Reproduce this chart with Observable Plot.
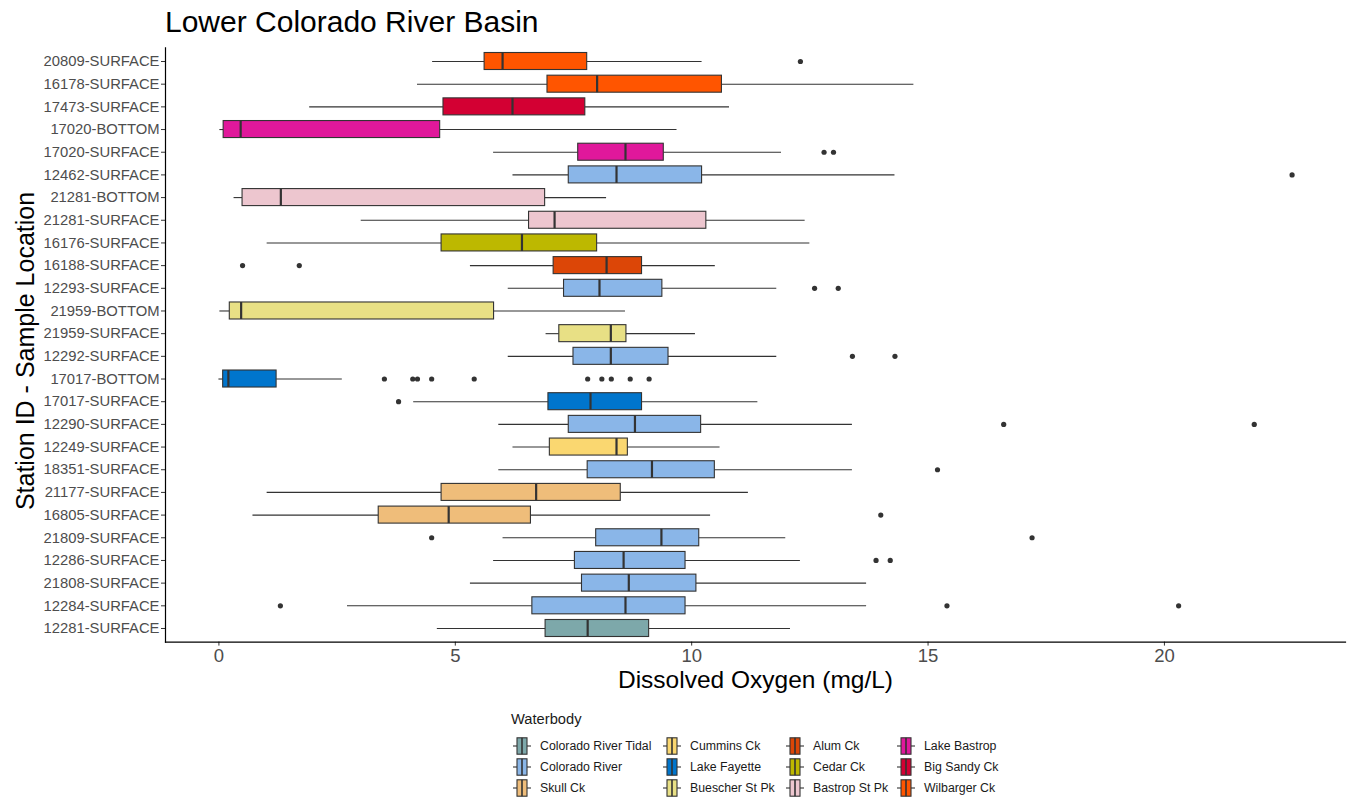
<!DOCTYPE html>
<html><head><meta charset="utf-8">
<script src="https://cdn.jsdelivr.net/npm/d3@7"></script>
<script src="https://cdn.jsdelivr.net/npm/@observablehq/plot@0.6"></script>
<style>
body{margin:0;background:#fff;font-family:"Liberation Sans",Arial,sans-serif;}
#wrap{position:relative;width:1348px;height:797px;overflow:hidden;background:#fff;}
#chart{position:absolute;left:0;top:0;}
#title{position:absolute;left:165px;top:5px;font-size:30px;color:#000;white-space:nowrap;}
.lg-title{position:absolute;font-size:14.7px;color:#1a1a1a;}
.lg-item{position:absolute;height:20px;display:flex;align-items:center;font-size:12.3px;color:#1a1a1a;white-space:nowrap;}
.lg-item svg{margin-right:9px;}
</style></head>
<body>
<div id="wrap">
  <div id="chart"></div>
  <div id="title">Lower Colorado River Basin</div>
  <div id="legend"></div>
</div>
<script>
// ---- data ----
const stations = ["20809-SURFACE","16178-SURFACE","17473-SURFACE","17020-BOTTOM","17020-SURFACE","12462-SURFACE","21281-BOTTOM","21281-SURFACE","16176-SURFACE","16188-SURFACE","12293-SURFACE","21959-BOTTOM","21959-SURFACE","12292-SURFACE","17017-BOTTOM","17017-SURFACE","12290-SURFACE","12249-SURFACE","18351-SURFACE","21177-SURFACE","16805-SURFACE","21809-SURFACE","12286-SURFACE","21808-SURFACE","12284-SURFACE","12281-SURFACE"];
const stationWaterbody = ["Wilbarger Ck","Wilbarger Ck","Big Sandy Ck","Lake Bastrop","Lake Bastrop","Colorado River","Bastrop St Pk","Bastrop St Pk","Cedar Ck","Alum Ck","Colorado River","Buescher St Pk","Buescher St Pk","Colorado River","Lake Fayette","Lake Fayette","Colorado River","Cummins Ck","Colorado River","Skull Ck","Skull Ck","Colorado River","Colorado River","Colorado River","Colorado River","Colorado River Tidal"];
const whiskerLow  = [4.52,4.20,1.92,0.02,5.81,6.22,0.32,3.01,1.02,5.32,6.12,0.02,6.92,6.12,0.00,4.12,5.92,6.22,5.92,1.02,0.72,6.01,5.81,5.32,2.72,4.62];
const q1          = [5.62,6.95,4.75,0.10,7.60,7.40,0.50,6.56,4.71,7.08,7.30,0.23,7.20,7.50,0.09,6.97,7.40,7.00,7.80,4.71,3.38,7.98,7.53,7.68,6.63,6.91];
const median      = [6.00,8.00,6.21,0.46,8.60,8.41,1.31,7.10,6.41,8.20,8.05,0.47,8.29,8.29,0.20,7.86,8.80,8.41,9.16,6.71,4.86,9.36,8.56,8.67,8.60,7.80];
const q3          = [7.79,10.64,7.75,4.68,9.41,10.22,6.90,10.31,8.00,8.95,9.38,5.82,8.62,9.51,1.22,8.95,10.20,8.65,10.49,8.50,6.60,10.16,9.87,10.10,9.87,9.10];
const whiskerHigh = [10.22,14.70,10.80,9.69,11.90,14.30,8.20,12.40,12.50,10.50,11.80,8.60,10.08,11.80,2.61,11.40,13.40,10.60,13.40,11.20,10.40,11.99,12.30,13.70,13.70,12.09];
const outlierStation = ["20809-SURFACE","17020-SURFACE","17020-SURFACE","12462-SURFACE","16188-SURFACE","16188-SURFACE","12293-SURFACE","12293-SURFACE","12292-SURFACE","12292-SURFACE","17017-BOTTOM","17017-BOTTOM","17017-BOTTOM","17017-BOTTOM","17017-BOTTOM","17017-BOTTOM","17017-BOTTOM","17017-BOTTOM","17017-BOTTOM","17017-BOTTOM","17017-SURFACE","12290-SURFACE","12290-SURFACE","18351-SURFACE","16805-SURFACE","21809-SURFACE","21809-SURFACE","12286-SURFACE","12286-SURFACE","12284-SURFACE","12284-SURFACE","12284-SURFACE"];
const outlierValue = [12.3,12.8,13.0,22.7,0.5,1.7,12.6,13.1,13.4,14.3,3.5,4.1,4.2,4.5,5.4,7.8,8.1,8.3,8.7,9.1,3.8,16.6,21.9,15.2,14.0,4.5,17.2,13.9,14.2,1.3,15.4,20.3];
const waterbodyNames = ["Colorado River Tidal","Colorado River","Skull Ck","Cummins Ck","Lake Fayette","Buescher St Pk","Alum Ck","Cedar Ck","Bastrop St Pk","Lake Bastrop","Big Sandy Ck","Wilbarger Ck"];
const waterbodyColors = ["#7da8aa","#8ab6e8","#efbd7a","#fad770","#0075cc","#e8e085","#dc4607","#bdb800","#edc6cf","#e0189b","#d30033","#ff5500"];
const xTicks = [0,5,10,15,20];
const chartTitle = "Lower Colorado River Basin";
const xTitle = "Dissolved Oxygen (mg/L)";
const yTitle = "Station ID - Sample Location";
const legendTitle = "Waterbody";

// ---- build ----
const data = stations.map((s,i)=>({station:s, waterbody:stationWaterbody[i], lo:whiskerLow[i], q1:q1[i], med:median[i], q3:q3[i], hi:whiskerHigh[i]}));
const outliers = outlierStation.map((s,i)=>({station:s, value:outlierValue[i]}));
const FONT = '"Liberation Sans", Arial, sans-serif';
const edge = "#333333";

const chart = Plot.plot({
  width:1348, height:700,
  marginTop:47.4, marginBottom:58.4, marginLeft:165, marginRight:3,
  style:{fontFamily:FONT, background:"white", overflow:"visible"},
  x:{domain:[-1.13,23.83]},
  y:{domain:stations, paddingInner:0.25, paddingOuter:0.225, round:false},
  color:{domain:waterbodyNames, range:waterbodyColors},
  marks:[
    Plot.ruleY(data,{y:"station", x1:"lo", x2:"q1", stroke:edge, strokeWidth:1.1}),
    Plot.ruleY(data,{y:"station", x1:"q3", x2:"hi", stroke:edge, strokeWidth:1.1}),
    Plot.barX(data,{y:"station", x1:"q1", x2:"q3", fill:"waterbody", stroke:edge, strokeWidth:1.1}),
    Plot.tickX(data,{y:"station", x:"med", stroke:edge, strokeWidth:2.2}),
    Plot.dot(outliers,{y:"station", x:"value", r:2.6, fill:edge, stroke:null}),
    Plot.axisY({label:null, tickSize:4, tickPadding:2, fontSize:14.8, color:"#4d4d4d", stroke:edge}),
    Plot.axisX({label:null, ticks:xTicks, tickSize:4, tickPadding:3, fontSize:18.5, color:"#4d4d4d", stroke:edge}),
    Plot.frame({anchor:"left", stroke:"#000", strokeWidth:1.2}),
    Plot.frame({anchor:"bottom", stroke:"#000", strokeWidth:1.2}),
    Plot.text([yTitle],{frameAnchor:"left", rotate:-90, textAnchor:"middle", lineAnchor:"middle", dx:-140, dy:6, fontSize:25, fill:"#000"}),
    Plot.text([xTitle],{frameAnchor:"bottom", textAnchor:"middle", lineAnchor:"middle", dy:38.5, fontSize:24.5, fill:"#000"})
  ]
});
document.getElementById("chart").appendChild(chart);
document.getElementById("title").textContent = chartTitle;

// ---- legend ----
const legend = document.getElementById("legend");
const lt = document.createElement("div");
lt.className = "lg-title"; lt.textContent = legendTitle;
lt.style.left = "511px"; lt.style.top = "711px";
legend.appendChild(lt);
const colX = [513, 663, 786, 897];
const rowY = [746, 767, 788];
waterbodyNames.forEach((name,i)=>{
  const c = Math.floor(i/3), r = i%3;
  const item = document.createElement("div");
  item.className = "lg-item";
  item.style.left = colX[c] + "px";
  item.style.top = (rowY[r]-10) + "px";
  item.innerHTML = `<svg width="18" height="18" viewBox="0 0 18 18"><line x1="0" x2="18" y1="9" y2="9" stroke="${edge}" stroke-width="1.1"/><rect x="4" y="0.8" width="10" height="16.4" fill="${waterbodyColors[i]}" stroke="${edge}" stroke-width="1.1"/><line x1="9" x2="9" y1="0.8" y2="17.2" stroke="${edge}" stroke-width="1.6"/></svg><span></span>`;
  item.querySelector("span").textContent = name;
  legend.appendChild(item);
});
</script>
</body></html>
